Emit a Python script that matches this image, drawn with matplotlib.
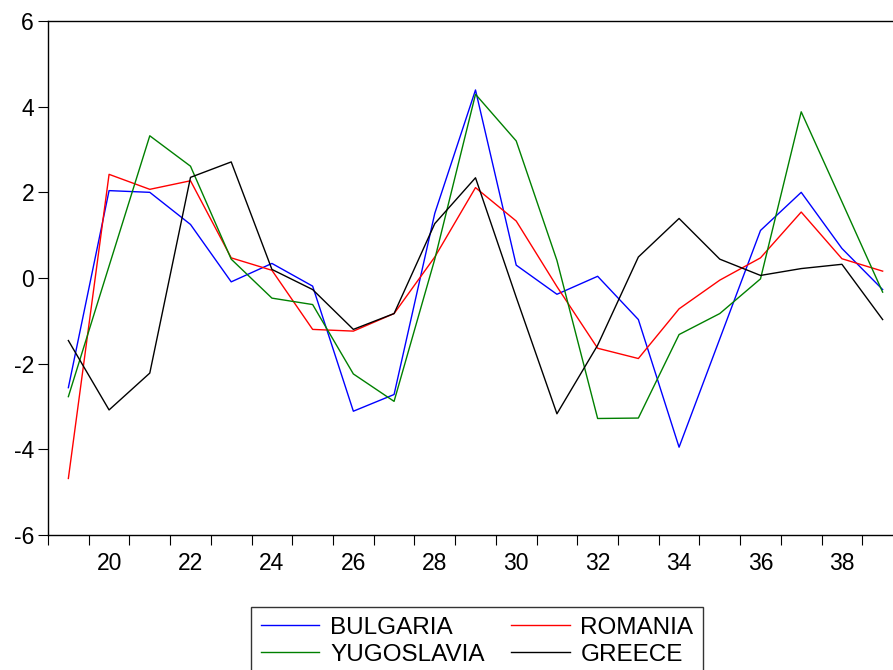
import numpy as np
import matplotlib
matplotlib.use('Agg')
import matplotlib.pyplot as plt

plt.rcParams['font.family'] = ['Liberation Sans', 'DejaVu Sans']

years = list(range(19, 40))
bulgaria = [-2.56, 2.04, 2.00, 1.25, -0.09, 0.34, -0.19, -3.11, -2.72, 1.51, 4.39,
            0.30, -0.38, 0.04, -0.97, -3.95, -1.42, 1.11, 2.00, 0.69, -0.27]
romania = [-4.68, 2.42, 2.07, 2.27, 0.47, 0.18, -1.20, -1.24, -0.83, 0.49, 2.11,
           1.33, -0.20, -1.64, -1.88, -0.72, -0.05, 0.47, 1.54, 0.45, 0.16]
yugoslavia = [-2.77, 0.28, 3.32, 2.61, 0.44, -0.47, -0.62, -2.24, -2.88, 0.44, 4.29,
              3.20, 0.41, -3.28, -3.27, -1.32, -0.83, -0.02, 3.88, 1.78, -0.33]
greece = [-1.46, -3.08, -2.22, 2.35, 2.71, 0.20, -0.27, -1.20, -0.83, 1.27, 2.34,
          -0.45, -3.17, -1.57, 0.49, 1.39, 0.44, 0.06, 0.22, 0.32, -0.97]

W, H = 893, 670
fig = plt.figure(figsize=(W / 100, H / 100), dpi=100)
# axes run past the right edge of the picture, like the original
ax = fig.add_axes([48 / W, 135 / H, 855 / W, 514 / H])

lw = 1.0
l1, = ax.plot(years, bulgaria, color='#0000ff', lw=lw, label='BULGARIA')
l2, = ax.plot(years, romania, color='#ff0000', lw=lw, label='ROMANIA')
l3, = ax.plot(years, yugoslavia, color='#008000', lw=lw, label='YUGOSLAVIA')
l4, = ax.plot(years, greece, color='#000000', lw=lw, label='GREECE')

ax.set_xlim(18.5, 39.5)
ax.set_ylim(-6, 6)
ax.set_yticks(np.arange(-6, 7, 2))
ax.set_yticklabels([str(v) for v in range(-6, 7, 2)])
ax.set_xticks(np.arange(20, 39, 2))
ax.set_xticks(np.arange(18.5, 39.0, 1), minor=True)
ax.tick_params(axis='x', which='major', length=0, pad=12, labelsize=16.5)
ax.tick_params(axis='x', which='minor', length=7, width=0.8, direction='out')
ax.tick_params(axis='y', length=7, width=0.8, direction='out', pad=3, labelsize=16.5)
for s in ['top', 'left', 'bottom', 'right']:
    ax.spines[s].set_linewidth(1.0)

leg = fig.legend([l1, l3, l2, l4], ['BULGARIA', 'YUGOSLAVIA', 'ROMANIA', 'GREECE'],
                 ncol=2, loc='upper left', bbox_to_anchor=(251 / W, 63 / H),
                 fontsize=17.5, frameon=True, fancybox=False, edgecolor='black',
                 handlelength=2.4, handletextpad=0.45, columnspacing=1.1,
                 labelspacing=0.2, borderpad=0.4, borderaxespad=0)
leg.get_frame().set_linewidth(1.0)

fig.savefig('out.png', dpi=100)
